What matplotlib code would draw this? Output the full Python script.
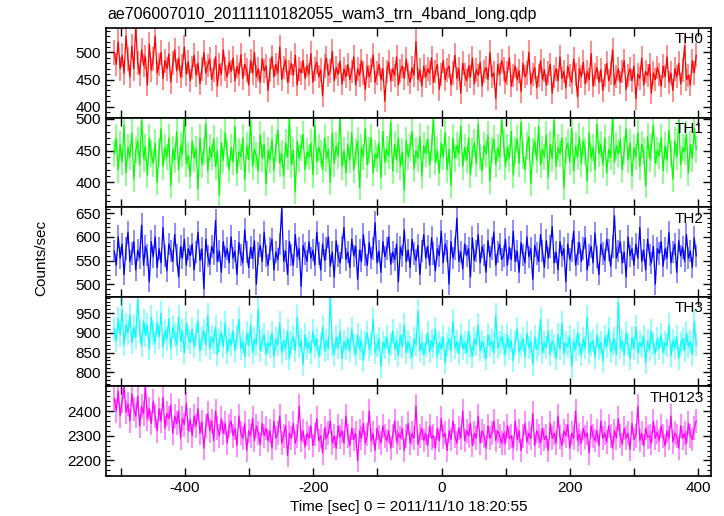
import numpy as np
import matplotlib
matplotlib.use("Agg")
import matplotlib.pyplot as plt
from matplotlib.ticker import MultipleLocator, FuncFormatter

plt.rcParams["font.family"] = ["Liberation Sans", "DejaVu Sans"]

TITLE = "ae706007010_20111110182055_wam3_trn_4band_long.qdp"
XLABEL = "Time [sec] 0 = 2011/11/10 18:20:55"
YLABEL = "Counts/sec"
T_START, T_END = -510.0, 397.0
BIN_SEC = 1.0

names = ["TH0", "TH1", "TH2", "TH3", "TH0123"]
colors = ["#ff0000", "#00ff00", "#0000ff", "#00ffff", "#ff00ff"]
ylims = [(380, 545), (361, 502), (473, 663), (764, 992), (2137, 2500)]
yticks = [[400, 450, 500], [400, 450, 500], [500, 550, 600, 650],
          [800, 850, 900, 950], [2200, 2300, 2400]]
yminor = [10, 10, 10, 10, 20]

th0 = [
    500, 478, 520, 470, 495, 462, 530, 488, 455, 512, 470, 548, 480, 460, 505, 476, 492, 440, 515, 468,
    488, 530, 462, 478, 500, 452, 485, 470, 497, 445, 480, 505, 466, 490, 455, 475, 510, 460, 483, 448,
    472, 495, 458, 480, 442, 470, 500, 462, 476, 488, 450, 467, 492, 438, 478, 460, 505, 470, 455, 482,
    465, 490, 448, 474, 460, 496, 452, 478, 468, 440, 485, 462, 500, 455, 470, 445, 488, 466, 475, 430,
    468, 492, 455, 478, 462, 510, 450, 472, 486, 445, 465, 480, 458, 495, 440, 470, 462, 485, 452, 476,
    460, 498, 445, 470, 482, 455, 468, 420, 475, 490, 458, 466, 502, 448, 472, 460, 484, 442, 470, 455,
    478, 450, 465, 492, 440, 470, 458, 485, 462, 432, 475, 455, 468, 495, 445, 462, 478, 450, 470, 410,
    465, 482, 448, 470, 458, 492, 440, 466, 475, 452, 488, 460, 445, 472, 458, 520, 450, 468, 438, 475,
    455, 470, 462, 490, 445, 465, 478, 432, 460, 485, 450, 468, 475, 440, 462, 495, 452, 470, 425, 480,
    460, 448, 475, 455, 490, 442, 468, 458, 482, 438, 465, 472, 450, 500, 455, 462, 415, 478, 460, 485,
    470, 445, 462, 490, 438, 458, 475, 450, 466, 428, 480, 455, 462, 500, 442, 460, 472, 435, 458, 485,
    450, 468, 440, 462, 478, 425, 455, 470, 448, 492, 452, 465, 435, 475, 458, 445, 488, 460, 418, 470,
    455, 482, 442, 465, 450, 498, 438, 460, 472, 445, 468, 430, 458, 480, 448, 462, 505, 440, 455, 470,
    445, 465, 485, 432, 458, 470, 448, 475, 415, 460, 452, 490, 440, 465, 458, 478, 425, 462, 450, 472,
    460, 438, 475, 455, 492, 445, 462, 430, 470, 455, 480, 442, 468, 512, 450, 458, 440, 485, 462, 495,
]
th1 = [
    445, 470, 420, 460, 432, 490, 415, 455, 440, 478, 405, 450, 465, 428, 498, 438, 455, 412, 470, 445,
    430, 462, 400, 448, 485, 425, 455, 440, 470, 395, 452, 436, 480, 420, 458, 445, 505, 430, 442, 410,
    465, 438, 452, 390, 470, 428, 448, 492, 418, 455, 440, 468, 425, 450, 380, 462, 435, 478, 445, 420,
    455, 432, 488, 415, 448, 440, 470, 405, 458, 436, 495, 425, 452, 442, 418, 475, 438, 460, 398, 450,
    435, 468, 420, 455, 482, 430, 445, 410, 462, 440, 500, 428, 450, 385, 465, 438, 455, 475, 420, 448,
    440, 462, 412, 490, 432, 455, 445, 420, 470, 438, 452, 400, 478, 430, 458, 442, 502, 425, 450, 415,
    460, 435, 478, 420, 448, 465, 392, 455, 440, 485, 428, 450, 470, 415, 445, 438, 462, 408, 480, 432,
    452, 442, 495, 418, 460, 435, 470, 425, 448, 388, 466, 440, 455, 480, 422, 450, 438, 472, 410, 458,
    445, 468, 428, 455, 500, 432, 450, 415, 462, 440, 478, 420, 452, 395, 470, 438, 458, 445, 488, 425,
    455, 435, 470, 412, 448, 462, 430, 492, 440, 418, 458, 445, 475, 402, 450, 468, 428, 455, 440, 498,
    462, 425, 455, 438, 480, 412, 450, 468, 430, 495, 442, 420, 458, 472, 398, 448, 465, 435, 488, 428,
    452, 440, 475, 408, 460, 438, 498, 425, 455, 445, 470, 392, 450, 462, 432, 485, 418, 458, 440, 472,
    430, 465, 448, 402, 478, 438, 455, 420, 492, 445, 460, 428, 470, 415, 452, 440, 505, 432, 458, 445,
    468, 420, 450, 485, 435, 462, 410, 455, 440, 478, 425, 460, 448, 395, 472, 438, 455, 490, 430, 450,
    442, 470, 418, 458, 435, 482, 445, 405, 465, 440, 498, 428, 455, 448, 475, 415, 460, 438, 485, 452,
]
th2 = [
    570, 540, 600, 555, 585, 520, 575, 610, 548, 565, 590, 530, 572, 556, 625, 540, 580, 562, 505, 590,
    558, 600, 535, 575, 545, 620, 560, 528, 585, 570, 548, 605, 562, 515, 580, 555, 595, 540, 575, 560,
    585, 530, 568, 610, 550, 575, 490, 595, 560, 542, 580, 565, 635, 548, 570, 525, 590, 558, 575, 545,
    600, 555, 570, 520, 588, 562, 545, 615, 568, 535, 578, 555, 592, 500, 565, 582, 548, 610, 560, 540,
    575, 595, 530, 568, 552, 585, 660, 548, 570, 520, 590, 562, 540, 605, 558, 575, 495, 582, 565, 548,
    590, 555, 572, 540, 610, 565, 530, 585, 550, 575, 600, 538, 568, 515, 592, 560, 545, 578, 620, 552,
    568, 535, 595, 560, 580, 510, 572, 548, 605, 562, 540, 588, 555, 575, 630, 545, 570, 525, 590, 558,
    575, 600, 542, 568, 552, 585, 505, 578, 560, 615, 548, 572, 535, 595, 565, 550, 582, 520, 570, 605,
    555, 580, 540, 598, 565, 528, 575, 560, 612, 545, 585, 570, 500, 590, 555, 575, 640, 548, 568, 532,
    585, 560, 575, 515, 598, 550, 570, 605, 545, 580, 562, 525, 592, 558, 575, 610, 540, 568, 585, 552,
    560, 595, 540, 578, 552, 612, 548, 570, 525, 588, 562, 545, 600, 558, 575, 510, 582, 565, 548, 605,
    570, 535, 592, 555, 580, 622, 545, 568, 530, 590, 560, 575, 505, 585, 552, 570, 612, 540, 565, 588,
    548, 575, 598, 530, 562, 580, 545, 608, 558, 520, 585, 565, 550, 595, 572, 538, 580, 645, 555, 570,
    590, 545, 568, 515, 600, 560, 575, 540, 585, 555, 620, 548, 572, 530, 595, 562, 545, 580, 500, 575,
    565, 590, 538, 575, 555, 610, 545, 568, 585, 525, 592, 560, 578, 548, 605, 555, 570, 535, 598, 560,
]
th3 = [
    910, 880, 935, 895, 960, 870, 920, 900, 945, 875, 915, 890, 985, 905, 868, 930, 895, 920, 860, 940,
    900, 875, 925, 890, 950, 865, 905, 885, 935, 860, 915, 895, 870, 940, 880, 905, 850, 925, 890, 875,
    910, 865, 895, 930, 855, 885, 905, 870, 945, 860, 890, 875, 915, 845, 880, 900, 865, 925, 850, 885,
    870, 905, 855, 890, 935, 860, 878, 840, 900, 868, 920, 850, 885, 870, 960, 855, 880, 895, 845, 875,
    865, 900, 840, 885, 870, 925, 850, 880, 860, 905, 835, 875, 890, 855, 940, 865, 880, 820, 895, 860,
    875, 850, 905, 865, 885, 840, 870, 915, 855, 880, 860, 990, 870, 845, 890, 862, 905, 835, 878, 860,
    885, 855, 910, 868, 845, 895, 860, 880, 830, 875, 900, 858, 872, 935, 850, 868, 885, 815, 875, 862,
    890, 848, 870, 905, 860, 880, 842, 895, 865, 920, 850, 878, 862, 838, 885, 870, 955, 855, 875, 845,
    868, 900, 852, 880, 865, 910, 840, 875, 860, 890, 825, 870, 885, 855, 930, 862, 878, 848, 895, 860,
    875, 850, 905, 865, 840, 885, 870, 920, 855, 878, 862, 835, 895, 868, 880, 850, 945, 862, 875, 890,
    870, 845, 895, 860, 880, 830, 875, 910, 852, 868, 885, 840, 900, 862, 878, 820, 890, 858, 872, 935,
    850, 875, 862, 905, 845, 880, 868, 835, 895, 860, 925, 848, 875, 865, 890, 815, 880, 858, 900, 870,
    845, 885, 862, 940, 850, 872, 880, 838, 895, 860, 875, 828, 890, 865, 910, 852, 870, 885, 845, 978,
    862, 880, 845, 900, 870, 835, 888, 860, 915, 850, 875, 865, 890, 825, 880, 858, 905, 870, 848, 885,
    860, 895, 850, 875, 868, 920, 842, 880, 862, 890, 835, 872, 885, 855, 900, 865, 878, 845, 930, 870,
]
th0123 = [
    2450, 2400, 2480, 2380, 2440, 2500, 2395, 2430, 2360, 2470, 2410, 2380, 2460, 2340, 2420, 2390, 2500, 2370, 2410, 2350,
    2440, 2380, 2320, 2410, 2360, 2455, 2330, 2390, 2370, 2425, 2310, 2380, 2350, 2400, 2290, 2370, 2345, 2430, 2320, 2365,
    2300, 2380, 2340, 2410, 2310, 2355, 2250, 2340, 2390, 2320, 2360, 2280, 2400, 2330, 2300, 2370, 2310, 2350, 2270, 2340,
    2360, 2300, 2330, 2260, 2380, 2310, 2290, 2350, 2240, 2320, 2300, 2370, 2280, 2340, 2310, 2265, 2350, 2300, 2330, 2280,
    2320, 2250, 2360, 2290, 2310, 2380, 2270, 2300, 2340, 2220, 2310, 2290, 2350, 2270, 2300, 2420, 2280, 2320, 2255, 2310,
    2290, 2340, 2260, 2305, 2370, 2280, 2300, 2230, 2330, 2290, 2310, 2360, 2270, 2300, 2250, 2340, 2295, 2320, 2270, 2380,
    2300, 2260, 2330, 2285, 2310, 2200, 2320, 2290, 2350, 2270, 2305, 2400, 2280, 2310, 2240, 2330, 2295, 2270, 2340, 2300,
    2280, 2320, 2250, 2300, 2360, 2275, 2310, 2290, 2330, 2240, 2300, 2350, 2270, 2310, 2290, 2420, 2265, 2300, 2330, 2280,
    2310, 2260, 2340, 2290, 2300, 2250, 2330, 2280, 2370, 2295, 2310, 2240, 2320, 2285, 2360, 2300, 2270, 2330, 2290, 2400,
    2280, 2320, 2300, 2350, 2260, 2310, 2290, 2380, 2270, 2320, 2300, 2250, 2340, 2290, 2310, 2360, 2280, 2320, 2300, 2270,
    2310, 2270, 2340, 2290, 2300, 2250, 2360, 2285, 2320, 2240, 2300, 2350, 2275, 2310, 2290, 2390, 2260, 2320, 2300, 2270,
    2330, 2285, 2300, 2240, 2350, 2290, 2310, 2270, 2380, 2295, 2260, 2320, 2300, 2345, 2250, 2310, 2290, 2400, 2280, 2305,
    2270, 2330, 2295, 2310, 2230, 2340, 2300, 2280, 2320, 2260, 2360, 2290, 2310, 2275, 2340, 2300, 2250, 2320, 2290, 2370,
    2300, 2265, 2330, 2290, 2310, 2245, 2350, 2285, 2300, 2420, 2280, 2310, 2260, 2330, 2295, 2300, 2270, 2360, 2290, 2315,
    2280, 2340, 2300, 2260, 2320, 2290, 2380, 2275, 2310, 2300, 2250, 2340, 2290, 2310, 2270, 2350, 2300, 2285, 2330, 2360,
]
series = [th0, th1, th2, th3, th0123]


def xfmt(v, pos):
    return "%d" % v if int(round(v)) % 200 == 0 else ""


def main():
    fig, axes = plt.subplots(5, 1, sharex=True, figsize=(7.24, 5.16), dpi=100)
    fig.subplots_adjust(left=0.1464, right=0.982, top=0.9457, bottom=0.0775, hspace=0)

    for ax, name, col, vals, yl, yt, ym in zip(axes, names, colors, series, ylims, yticks, yminor):
        y = np.array(vals, dtype=float)
        t = np.linspace(T_START, T_END, len(y))
        err = np.sqrt(y / BIN_SEC)
        ax.errorbar(t, y, yerr=err, fmt="none", ecolor=col, alpha=0.45, elinewidth=1.4)
        ax.plot(t, y, color=col, lw=0.9)
        ax.set_ylim(*yl)
        ax.set_yticks(yt)
        ax.yaxis.set_minor_locator(MultipleLocator(ym))
        ax.xaxis.set_major_locator(MultipleLocator(100))
        ax.xaxis.set_major_formatter(FuncFormatter(xfmt))
        ax.tick_params(which="both", direction="in", top=True, right=True, labelsize=11)
        ax.tick_params(which="major", length=6, width=1)
        ax.tick_params(which="minor", length=3, width=0.8)
        for s in ax.spines.values():
            s.set_linewidth(1.2)
        ax.text(0.988, 0.95, name, transform=ax.transAxes, ha="right", va="top", fontsize=11)

    axes[-1].set_xlim(-523, 420)
    axes[-1].set_xlabel(XLABEL, fontsize=11, labelpad=4)
    fig.text(41 / 724, 0.5, YLABEL, rotation=90, ha="center", va="center", fontsize=11)
    fig.text(107 / 724, 1 - 14 / 516, TITLE, ha="left", va="center", fontsize=11.5)

    fig.savefig("out.png", dpi=100)


if __name__ == "__main__":
    main()
